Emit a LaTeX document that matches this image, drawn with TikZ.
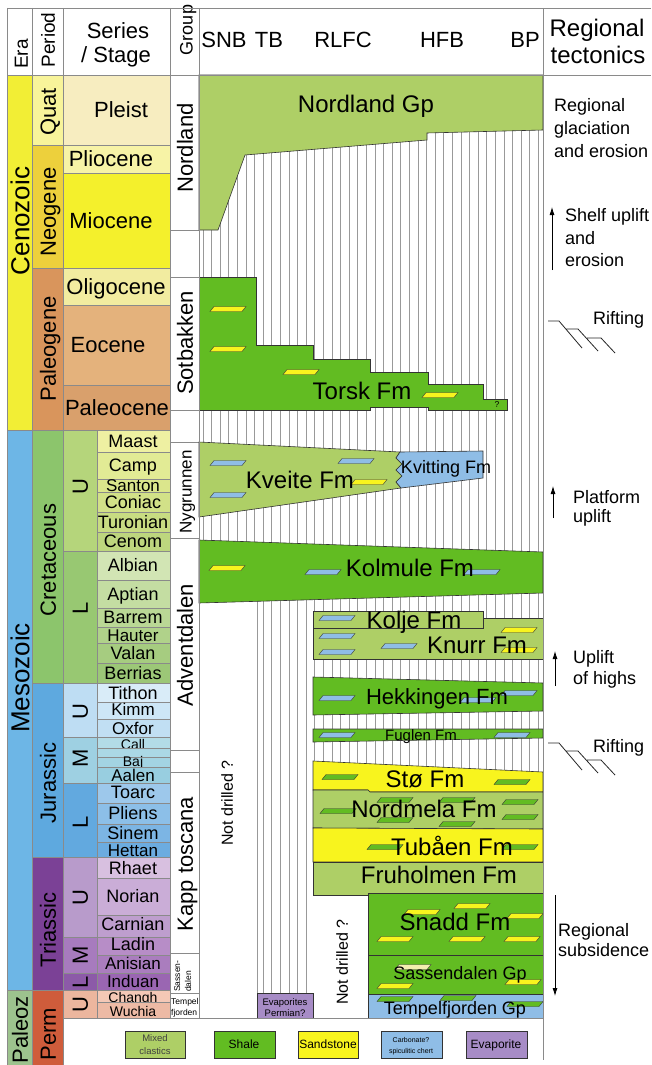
\documentclass[tikz,border=0pt]{standalone}
\usepackage{fontspec}
\setmainfont{Liberation Sans}
\usetikzlibrary{arrows.meta}
\definecolor{frame}{HTML}{8A8A8A}
\definecolor{eracen}{HTML}{F2EE35}
\definecolor{erames}{HTML}{6DB6E6}
\definecolor{erapal}{HTML}{9DC38E}
\definecolor{mixcl}{HTML}{AECF66}
\definecolor{shale}{HTML}{62BC22}
\definecolor{sand}{HTML}{F8F41E}
\definecolor{palesand}{HTML}{F3EDB0}
\definecolor{carb}{HTML}{8FBDE6}
\definecolor{evap}{HTML}{A78CC6}

\newcommand{\lensat}[3]{\filldraw[lens,fill=#1,shift={(#2,#3)}] (-18,2.5) -- (14,2.5) -- (18,-2.5) -- (-14,-2.5) -- cycle;}
\newcommand{\riftat}[1]{\draw[rift,shift={(0,#1)}] (548,0) -- (559,0) -- (582,27) (566,8) -- (578,8) -- (598,30) (587,17) -- (601,17) -- (615,32);}

\begin{document}
\begin{tikzpicture}[x=1pt,y=-1pt,>={Latex[length=8pt,width=5pt]}]
\tikzset{
  cell/.style={draw=frame,line width=.5pt},
  fm/.style={draw=black!80,line width=.6pt},
  hatch/.style={draw=gray!80,line width=.7pt},
  lens/.style={draw=black!80,line width=.4pt},
  rift/.style={line width=.8pt,black!85},
  f8/.style={font=\fontsize{8.5}{9}\selectfont,inner sep=0pt,text height=6.1pt,text depth=0pt},
  f10/.style={font=\fontsize{9.5}{10}\selectfont,inner sep=0pt,text height=6.8pt,text depth=0pt},
  f12/.style={font=\fontsize{12}{12}\selectfont,inner sep=0pt,text height=8.6pt,text depth=0pt},
  f15/.style={font=\fontsize{15}{15}\selectfont,inner sep=0pt,text height=10.8pt,text depth=0pt},
  f16/.style={font=\fontsize{16}{16}\selectfont,inner sep=0pt,text height=11.5pt,text depth=0pt},
  f18/.style={font=\fontsize{18}{18}\selectfont,inner sep=0pt,text height=13pt,text depth=0pt},
  f19/.style={font=\fontsize{19}{19}\selectfont,inner sep=0pt,text height=13.7pt,text depth=0pt},
  f22/.style={font=\fontsize{22}{22}\selectfont,inner sep=0pt,text height=15.8pt,text depth=0pt},
  f24/.style={font=\fontsize{24}{24}\selectfont,inner sep=0pt,text height=17.3pt,text depth=0pt},
  f26/.style={font=\fontsize{26}{26}\selectfont,inner sep=0pt,text height=18.7pt,text depth=0pt}
}
\useasboundingbox (0,0) rectangle (651,1065);
\fill[white] (0,0) rectangle (651,1065);

% header
\node[f19,rotate=90] (h-era) at (21,54) {Era};
\node[f19,rotate=90] (h-period) at (48,40) {Period};
\node[f22] (h-series) at (118,31) {Series};
\node[f22] (h-stage) at (116,55) {/ Stage};
\node[f18,rotate=90] (h-group) at (186,30) {Group};
\foreach \hx/\hl in {224/SNB,269/TB,343/RLFC,442/HFB,525/BP}
  \node[f22] (h-\hl) at (\hx,40) {\hl};
\node[f24] (h-reg) at (597,28) {Regional};
\node[f24] (h-tect) at (598,55) {tectonics};

% era column
\draw[cell,fill=eracen] (7,75) rectangle (32,430);
\draw[cell,fill=erames] (7,430) rectangle (32,990);
\draw[cell,fill=erapal] (7,990) rectangle (32,1065);
\node[f26,rotate=90] (era-cen) at (20,221) {Cenozoic};
\node[f26,rotate=90] (era-mes) at (20,678) {Mesozoic};
\node[f22,rotate=90] (era-pal) at (20,1030) {Paleoz};

% period column
\foreach \ya/\yb/\col/\lab/\ly [count=\i] in {75/145/F8F49A/Quat/112,145/268/EDD03C/Neogene/212,
  268/430/D9955C/Paleogene/349,430/683/8CC56C/Cretaceous/560,683/857/5EA9DF/Jurassic/783,
  857/990/7B4196/Triassic/930,990/1065/CF5C3B/Perm/1034}{
  \definecolor{cc}{HTML}{\col}
  \draw[cell,fill=cc] (32,\ya) rectangle (63,\yb);
  \node[f22,rotate=90] (per\i) at (48,\ly) {\lab};
}

% Cenozoic epochs, full width
\foreach \ya/\yb/\col/\lab/\lx [count=\i] in {75/145/F7EDC0/Pleist/121,145/173/F7F3A6/Pliocene/111,
  173/268/F4F02C/Miocene/111,268/305/F2ECA0/Oligocene/116,305/385/E4B27C/Eocene/108,
  385/430/D9A06C/Paleocene/117}{
  \definecolor{cc}{HTML}{\col}
  \draw[cell,fill=cc] (63,\ya) rectangle (170,\yb);
  \node[f22] (ep\i) at (\lx,{(\ya+\yb)/2}) {\lab};
}

% series column
\foreach \ya/\yb/\col/\lab/\ly [count=\i] in {430/551/B5D57B/U/487,551/683/98C872/L/608,
  683/737/BEDDF3/U/712,737/783/9ED0E2/M/758,783/857/62A9DF/L/822,857/937/B89BCB/U/898,
  937/973/A77BBE/M/955,973/990/8C5AA8/L/982,990/1018/ECB69E/U/1005}{
  \definecolor{cc}{HTML}{\col}
  \draw[cell,fill=cc] (63,\ya) rectangle (97,\yb);
  \node[f22,rotate=90] (ser\i) at (80,\ly) {\lab};
}

% stages
\foreach \ya/\yb/\col/\lab/\ly/\fz [count=\i] in {430/452/EEF0A2/Maast/441/18,452/479/E2EB95/Camp/465/18,
  479/492/DBE68C/Santon/485/17,492/512/D2E188/Coniac/502/18,512/532/C8DC82/Turonian/522/18,
  532/551/BDD67E/Cenom/541/18,551/580/D2E5B4/Albian/565/18,580/608/C4DDA2/Aptian/594/18,
  608/627/BAD895/Barrem/617/18,627/643/B0D28A/Hauter/635/17,643/663/A6CC80/Valan/653/18,
  663/683/9CC777/Berrias/673/18,683/702/D9ECF8/Tithon/693/18,702/719/CDE6F6/Kimm/709/17,
  719/737/C1DFF3/Oxfor/728/17,737/748/B3DCE7/Call/743/14,748/757/ABD8E5/{}/752/14,
  757/767/A3D4E3/Baj/760/14,767/783/98CEE0/Aalen/775/17,783/803/9DC8EB/Toarc/792/18,
  803/824/8CBFE8/Pliens/813/18,824/842/7CB5E4/Sinem/833/18,842/857/6CACE0/Hettan/850/17,
  857/878/D8C0E0/Rhaet/868/18,878/915/CAADD7/Norian/896/18,915/937/BE9ECE/Carnian/924/18,
  937/955/B78DC7/Ladin/944/18,955/973/AA7DBE/Anisian/963/17,973/990/9A66B2/Induan/981/17,
  990/1002/F4C8B6/Changh/996/14,1002/1018/EDBAA5/Wuchia/1010/14}{
  \definecolor{cc}{HTML}{\col}
  \draw[cell,fill=cc] (97,\ya) rectangle (170,\yb);
  \node[f18,font=\fontsize{\fz}{\fz}\selectfont] (stage\i) at (133,\ly) {\lab};
}

% group column
\foreach \ya/\yb in {75/230,230/277,277/410,410/442,442/538,538/750,750/772,772/953,953/993,993/1018}
  \draw[cell,fill=white] (170,\ya) rectangle (199,\yb);
\node[f22,rotate=90] (g-nordland) at (185,148) {Nordland};
\node[f22,rotate=90] (g-sotbakken) at (185,343) {Sotbakken};
\node[f18,rotate=90,font=\fontsize{17}{17}\selectfont] (g-nygrunnen) at (185,492) {Nygrunnen};
\node[f22,rotate=90] (g-advent) at (185,645) {Adventdalen};
\node[f22,rotate=90] (g-kapp) at (185,864) {Kapp toscana};
\node[f8,rotate=90,anchor=west] (g-sass1) at (177,992) {Sassen-};
\node[f8,rotate=90,anchor=west] (g-sass2) at (188,992) {dalen};
\node[f8,anchor=west] (g-temp1) at (171,1001) {Tempel};
\node[f8,anchor=west] (g-temp2) at (171,1012) {fjorden};

% hiatus hatching and undrilled ground
\fill[white] (199,75) rectangle (543,1018);
\foreach \hx in {203,211.6,...,540}
  \draw[hatch] (\hx,75) -- (\hx,1018);
\fill[white] (199,590) rectangle (257,1018);
\fill[white] (313,890) rectangle (368,1018);
\draw[hatch] (257,600) -- (257,993);

% Cenozoic units
\filldraw[fm,fill=mixcl] (199,75) -- (543,75) -- (543,130) -- (427,133) -- (427,140) -- (245,155)
  -- (218,230) -- (199,230) -- cycle;
\filldraw[fm,fill=shale] (199,277) -- (256,277) -- (256,345) -- (313,345) -- (313,359) -- (370,359)
  -- (370,372) -- (428,372) -- (428,384) -- (483,384) -- (483,399) -- (507,399) -- (507,410)
  -- (428,410) -- (428,407) -- (370,407) -- (370,410) -- (199,410) -- cycle;

% Cretaceous units
\filldraw[fm,fill=mixcl] (199,442) -- (400,452) -- (396,458) -- (402,464) -- (396,470) -- (402,476)
  -- (396,482) -- (401,488) -- (199,517) -- cycle;
\filldraw[fm,fill=carb] (400,452) -- (483,451) -- (483,478) -- (401,488) -- (396,482) -- (402,476)
  -- (396,470) -- (402,464) -- (396,458) -- cycle;
\filldraw[fm,fill=shale] (199,540) -- (543,552) -- (543,593) -- (199,603) -- cycle;
\filldraw[fm,fill=mixcl] (313,628) -- (483,628) -- (483,618) -- (543,618) -- (543,659) -- (313,659) -- cycle;
\filldraw[fm,fill=mixcl] (313,611) rectangle (483,628);

% Jurassic units
\filldraw[fm,fill=shale] (313,677) -- (543,683) -- (543,711) -- (313,715) -- cycle;
\filldraw[fm,fill=shale] (313,729) -- (543,729) -- (543,738) -- (313,742) -- cycle;
\filldraw[fm,fill=sand] (313,761) -- (543,772) -- (543,792) -- (370,792) -- (368,790) -- (313,790) -- cycle;
\filldraw[fm,fill=mixcl] (313,790) -- (368,790) -- (370,792) -- (543,792) -- (543,829) -- (313,828) -- cycle;
\filldraw[fm,fill=sand] (313,828) -- (543,829) -- (543,862) -- (313,862) -- cycle;

% Triassic and Permian units
\filldraw[fm,fill=mixcl] (313,862) -- (543,862) -- (543,893) -- (368,893) -- (368,895) -- (313,895) -- cycle;
\filldraw[fm,fill=shale] (368,893) rectangle (543,955);
\filldraw[fm,fill=shale] (368,955) rectangle (543,994);
\filldraw[fm,fill=carb] (368,994) rectangle (543,1018);
\filldraw[fm,fill=evap] (257,993) rectangle (313,1018);

% lenses
\foreach \lx/\ly in {228/309,228/349,301/372,440/395,369/482,227/568,519/630,519/650,
  422/912,472/906,525/916,395/939,467/939,522/939,395/986,523/982}
  {\lensat{sand}{\lx}{\ly}}
\lensat{palesand}{413}{967}
\foreach \lx/\ly in {228/463,228/495,356/461,323/572,482/572,337/618,337/636,337/652,399/646,
  337/698,519/693,478/700,337/735,512/735}
  {\lensat{carb}{\lx}{\ly}}
\foreach \lx/\ly in {340/777,512/782,338/811,395/800,395/820,457/800,457/824,520/802,520/817,
  385/847,520/847,395/999,458/998,525/1004}
  {\lensat{shale}{\lx}{\ly}}

% unit names
\node[f24] (nordland) at (366,104) {Nordland Gp};
\node[f24] (torsk) at (362,391) {Torsk Fm};
\node[f8] (torsk-q) at (497,404) {?};
\node[f24] (kveite) at (300,480) {Kveite Fm};
\node[f18] (kvitting) at (446,467) {Kvitting Fm};
\node[f24] (kolmule) at (410,568) {Kolmule Fm};
\node[f24] (kolje) at (414,620) {Kolje Fm};
\node[f24] (knurr) at (477,645) {Knurr Fm};
\node[f22] (hekkingen) at (437,697) {Hekkingen Fm};
\node[f15] (fuglen) at (421,735) {Fuglen Fm};
\node[f24] (sto) at (425,779) {Stø Fm};
\node[f24] (nordmela) at (424,809) {Nordmela Fm};
\node[f24] (tubaen) at (452,847) {Tubåen Fm};
\node[f24] (fruholmen) at (439,875) {Fruholmen Fm};
\node[f24] (snadd) at (455,922) {Snadd Fm};
\node[f18] (sassendalen) at (460,973) {Sassendalen Gp};
\node[f18] (tempelfjorden) at (455,1008) {Tempelfjorden Gp};
\node[f16,rotate=90] (nd-left) at (227,803) {Not drilled ?};
\node[f16,rotate=90] (nd-right) at (342,962) {Not drilled ?};
\node[f10] (evap1) at (285,1002) {Evaporites};
\node[f10] (evap2) at (285,1013) {Permian?};

% regional tectonics
\node[f18,anchor=west] (tg1) at (554,105) {Regional};
\node[f18,anchor=west] (tg2) at (554,128) {glaciation};
\node[f18,anchor=west] (tg3) at (554,151) {and erosion};
\coordinate (shelf-a) at (552,270);
\coordinate (shelf-b) at (552,207);
\draw[->,line width=.8pt] (shelf-a) -- (shelf-b);
\node[f18,anchor=west] (ts1) at (565,215) {Shelf uplift};
\node[f18,anchor=west] (ts2) at (565,238) {and};
\node[f18,anchor=west] (ts3) at (565,260) {erosion};
\riftat{321}
\node[f18,anchor=west] (rift1) at (593,318) {Rifting};
\coordinate (plat-a) at (553,518);
\coordinate (plat-b) at (553,486);
\draw[->,line width=.8pt] (plat-a) -- (plat-b);
\node[f18,anchor=west] (tp1) at (573,497) {Platform};
\node[f18,anchor=west] (tp2) at (573,516) {uplift};
\coordinate (high-a) at (555,686);
\coordinate (high-b) at (555,651);
\draw[->,line width=.8pt] (high-a) -- (high-b);
\node[f18,anchor=west] (tu1) at (573,657) {Uplift};
\node[f18,anchor=west] (tu2) at (573,678) {of highs};
\riftat{743}
\node[f18,anchor=west] (rift2) at (593,746) {Rifting};
\coordinate (sub-a) at (555,895);
\coordinate (sub-b) at (555,996);
\draw[->,line width=.8pt] (sub-a) -- (sub-b);
\node[f18,anchor=west] (tr1) at (558,930) {Regional};
\node[f18,anchor=west] (tr2) at (558,950) {subsidence};

% legend
\filldraw[fm,fill=mixcl] (125,1031) rectangle (185,1058);
\node[f10,text=black!75] (lg-mix1) at (155,1038) {Mixed};
\node[f10,text=black!75] (lg-mix2) at (155,1051) {clastics};
\filldraw[fm,fill=shale] (214,1031) rectangle (275,1058);
\node[f12] (lg-shale) at (244,1044) {Shale};
\filldraw[fm,fill=sand] (298,1031) rectangle (358,1058);
\node[f12] (lg-sand) at (328,1044) {Sandstone};
\filldraw[fm,fill=carb] (381,1031) rectangle (442,1058);
\node[f8,font=\fontsize{7}{7}\selectfont] (lg-carb1) at (411,1039) {Carbonate?};
\node[f8,font=\fontsize{7}{7}\selectfont] (lg-carb2) at (411,1050) {spiculitic chert};
\filldraw[fm,fill=evap] (466,1031) rectangle (527,1058);
\node[f12] (lg-evap) at (496,1044) {Evaporite};

% table frame
\draw[cell] (7,8) -- (651,8);
\draw[cell] (7,75) -- (651,75);
\draw[cell] (7,8) -- (7,1065);
\draw[cell] (32,8) -- (32,1065);
\draw[cell] (63,8) -- (63,1065);
\draw[cell] (170,8) -- (170,1018);
\draw[cell] (199,8) -- (199,1018);
\draw[cell] (543,8) -- (543,1060);
\draw[cell] (63,1018) -- (543,1018);
\end{tikzpicture}
\end{document}
